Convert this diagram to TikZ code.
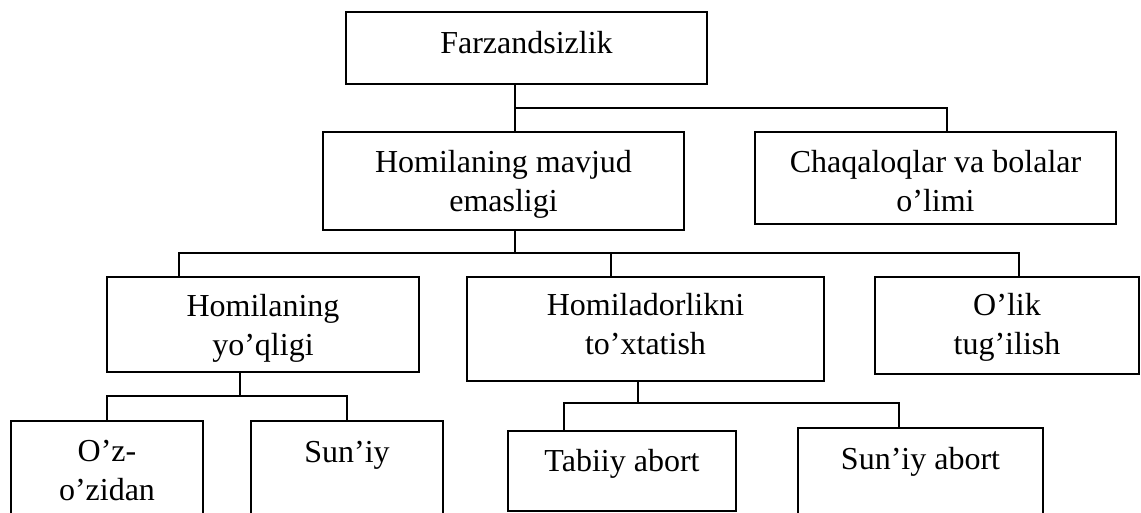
\documentclass[tikz,border=0pt]{standalone}
\usepackage{fontspec}
\setmainfont{Liberation Serif}
\begin{document}
\begin{tikzpicture}[x=0.75pt,y=-0.75pt,
  box/.style={draw, line width=1.2pt, inner sep=0pt},
  txt/.style={anchor=north, inner sep=0pt, align=center, font=\fontsize{24pt}{29pt}\selectfont},
  conn/.style={line width=1.1pt}]
\useasboundingbox (0,0) rectangle (1141,512);
\clip (0,0) rectangle (1141,512);
% boxes
\node[box, minimum width=270.75pt, minimum height=54pt]    (F) at (526.5,48) {};
\node[box, minimum width=270.75pt, minimum height=73.5pt]  (M) at (503.5,181) {};
\node[box, minimum width=270.75pt, minimum height=69pt]    (C) at (935.5,178) {};
\node[box, minimum width=234pt,    minimum height=71.25pt] (Y) at (263,324.5) {};
\node[box, minimum width=267.75pt, minimum height=78pt]    (H) at (645.5,329) {};
\node[box, minimum width=198pt,    minimum height=72.75pt] (O) at (1007,325.5) {};
\node[box, minimum width=144pt,    minimum height=89.25pt] (Z) at (107,480.5) {};
\node[box, minimum width=144pt,    minimum height=89.25pt] (S) at (347,480.5) {};
\node[box, minimum width=171pt,    minimum height=60pt]    (T) at (622,471) {};
\node[box, minimum width=183.75pt, minimum height=84pt]    (A) at (920.5,484) {};
% texts
\node[txt] (tF) at (526.5,26) {\strut Farzandsizlik};
\node[txt] (tM) at (503.5,145) {\strut Homilaning mavjud\\\strut emasligi};
\node[txt] (tC) at (935.5,145) {\strut Chaqaloqlar va bolalar\\\strut o’limi};
\node[txt] (tY) at (263,289) {\strut Homilaning\\\strut yo’qligi};
\node[txt] (tH) at (645.5,288) {\strut Homiladorlikni\\\strut to’xtatish};
\node[txt] (tO) at (1007,288) {\strut O’lik\\\strut tug’ilish};
\node[txt] (tZ) at (107,434) {\strut O’z-\\\strut o’zidan};
\node[txt] (tS) at (347,435) {\strut Sun’iy};
\node[txt] (tT) at (622,444) {\strut Tabiiy abort};
\node[txt] (tA) at (920.5,442) {\strut Sun’iy abort};
% connectors
\coordinate (j1) at (515,108);
\coordinate (xC) at (947,0);
\draw[conn] (F.south -| j1) -- (M.north -| j1);
\draw[conn] (j1) -- (xC |- j1) -- (C.north -| xC);
\coordinate (j2) at (515,253);
\coordinate (xY) at (179,0);
\coordinate (xH) at (611,0);
\coordinate (xO) at (1019,0);
\draw[conn] (M.south -| j2) -- (j2);
\draw[conn] (Y.north -| xY) -- (xY |- j2) -- (xO |- j2) -- (O.north -| xO);
\draw[conn] (xH |- j2) -- (H.north -| xH);
\coordinate (j3) at (240,396);
\coordinate (xZ) at (107,0);
\coordinate (xS) at (347,0);
\draw[conn] (Y.south -| j3) -- (j3);
\draw[conn] (Z.north -| xZ) -- (xZ |- j3) -- (xS |- j3) -- (S.north -| xS);
\coordinate (j4) at (638,403);
\coordinate (xT) at (564,0);
\coordinate (xA) at (899,0);
\draw[conn] (H.south -| j4) -- (j4);
\draw[conn] (T.north -| xT) -- (xT |- j4) -- (xA |- j4) -- (A.north -| xA);
\end{tikzpicture}
\end{document}
